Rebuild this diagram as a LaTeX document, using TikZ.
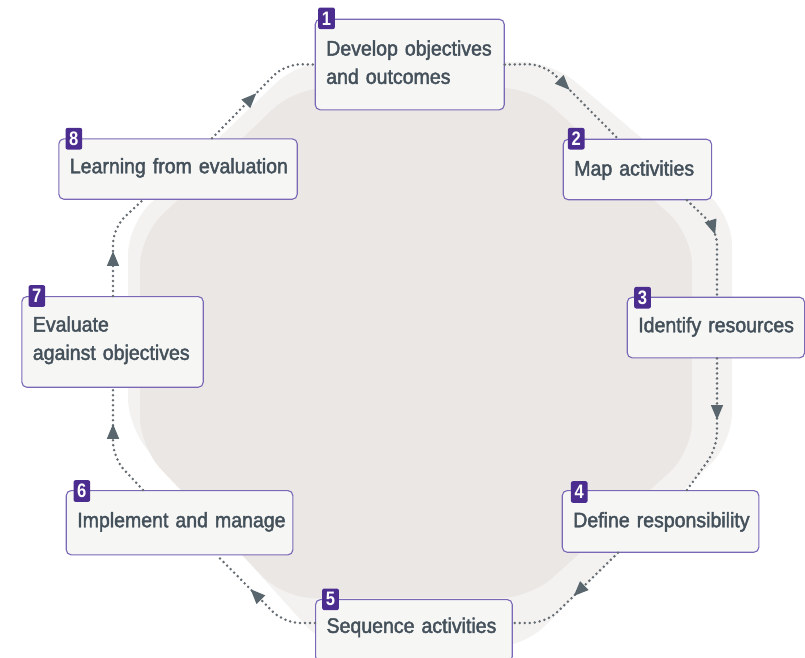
\documentclass[tikz,border=0pt]{standalone}
\usepackage{fontspec}
\setmainfont{Liberation Sans}
\newfontfamily\boxfont[FakeStretch=0.93,FakeBold=2]{Liberation Sans}
\newfontfamily\badgefont[FakeStretch=0.85]{Liberation Sans}
\usetikzlibrary{arrows.meta,decorations.markings,calc}
\definecolor{outerc}{HTML}{F3F2F1}
\definecolor{innerc}{HTML}{EBE7E5}
\definecolor{boxfill}{HTML}{F6F6F5}
\definecolor{boxborder}{HTML}{7A68B6}
\definecolor{badgec}{HTML}{4B2C8F}
\definecolor{txt}{HTML}{44515B}
\definecolor{dotc}{HTML}{646B71}
\definecolor{arrowc}{HTML}{5A666D}
\tikzset{
  stepbox/.style={draw=boxborder, line width=1.1pt, fill=boxfill, rounded corners=5pt,
    anchor=north west, inner xsep=11pt, inner ysep=0pt, align=left, text=txt,
    font=\boxfont\fontsize{21}{28.3}\selectfont},
  badge/.style={fill=badgec, rounded corners=2pt, anchor=north west, minimum width=16.7pt,
    minimum height=21.6pt, inner sep=0pt, text=white,
    font=\badgefont\bfseries\fontsize{19.5}{19.5}\selectfont},
  flow/.style={draw=dotc, line width=2.8pt, dash pattern=on 0pt off 5pt, line cap=round,
    rounded corners=16pt},
  arrowat/.style={postaction={decorate, decoration={markings,
    mark=at position #1 with {\arrow[arrowc]{Triangle[length=15pt,width=11.5pt]}}}}}
}
\begin{document}
\begin{tikzpicture}[x=1pt,y=-1pt]
\useasboundingbox (0,0) rectangle (805,657);
\fill[white] (0,0) rectangle (805,657);
% background shapes
\fill[outerc, rounded corners=30pt] (298,62) -- (552,62) -- (732,215) -- (732,443) -- (522,648)
  -- (326,648) -- (128,428) -- (128,225) -- cycle;
\fill[innerc, rounded corners=30pt] (295,88) -- (532,88) -- (692,235) -- (692,452) -- (530,598)
  -- (283,598) -- (140,447) -- (140,236) -- cycle;
% boxes
\node[stepbox, text width=167pt, text height=36.3pt, text depth=54.3pt] (n1) at (314.7,18.7)
  {\mbox{Develop objectives}\\\mbox{and outcomes}};
\node[stepbox, text width=126.3pt, text height=36.3pt, text depth=24.2pt] (n2) at (562.7,138.7)
  {\mbox{Map activities}};
\node[stepbox, text width=155.3pt, text height=35pt, text depth=25.6pt] (n3) at (626.7,296.7)
  {\mbox{Identify resources}};
\node[stepbox, text width=174.6pt, text height=36.7pt, text depth=25pt] (n4) at (561.7,490)
  {\mbox{Define responsibility}};
\node[stepbox, text width=174.7pt, text height=33.3pt, text depth=28.7pt] (n5) at (315,599)
  {\mbox{Sequence activities}};
\node[stepbox, text width=204.6pt, text height=36.7pt, text depth=27.6pt] (n6) at (65.7,490)
  {\mbox{Implement and manage}};
\node[stepbox, text width=159.4pt, text height=35pt, text depth=55.7pt] (n7) at (21.3,296)
  {\mbox{Evaluate}\\\mbox{against objectives}};
\node[stepbox, text width=216.4pt, text height=34.4pt, text depth=26pt] (n8) at (58.3,138.3)
  {\mbox{Learning from evaluation}};
% badges
\node[badge] (b1) at (318,7.3) {1};
\node[badge] (b2) at (567.7,127.7) {2};
\node[badge] (b3) at (634,286.7) {3};
\node[badge] (b4) at (570.7,481) {4};
\node[badge] (b5) at (322,588.3) {5};
\node[badge] (b6) at (73.3,480) {6};
\node[badge] (b7) at (28.3,285) {7};
\node[badge] (b8) at (65.3,127.7) {8};
% connectors
\draw[flow, arrowat=0.52] (n1.east) -- (544,64) -- ($(n2.north west)+(55.3,0)$);
\draw[flow, arrowat=0.42] ($(n2.south west)+(124.3,0)$) -- (717,229) -- ($(n3.north west)+(90.3,0)$);
\draw[flow, arrowat=0.44] ($(n3.south west)+(90.3,0)$) -- (717,448) -- ($(n4.north west)+(125.3,0)$);
\draw[flow, arrowat=0.47] ($(n4.south west)+(56.3,0)$) -- (546,623) -- ($(n5.north east)+(0,24)$);
\draw[flow, arrowat=0.62] ($(n5.north west)+(0,24)$) -- (284,623) -- ($(n6.south west)+(151.3,0)$);
\draw[flow, arrowat=0.68] ($(n6.north west)+(77.3,0)$) -- (113,458) -- ($(n7.south west)+(91.7,0)$);
\draw[flow, arrowat=0.42] ($(n7.north west)+(91.7,0)$) -- (113,228) -- ($(n8.south west)+(84.7,0)$);
\draw[flow, arrowat=0.48] ($(n8.north west)+(153.7,0)$) -- (285,64) -- (n1.west);
\end{tikzpicture}
\end{document}
